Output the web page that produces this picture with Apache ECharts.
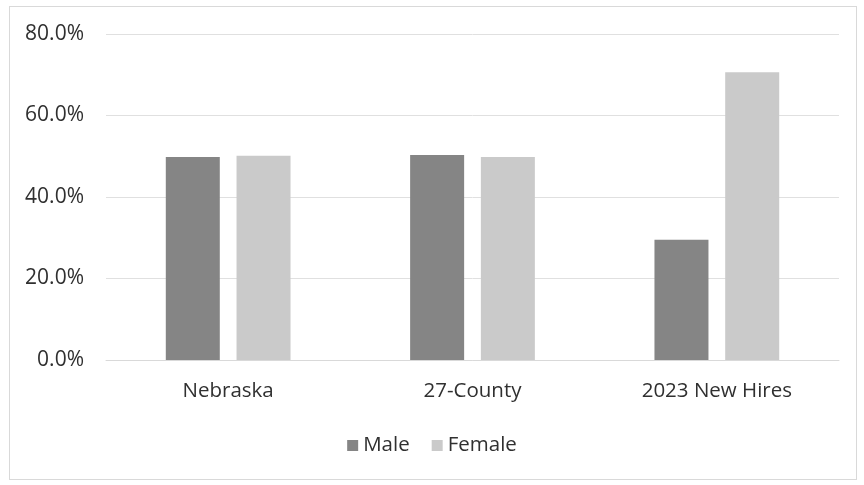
<!DOCTYPE html>
<html><head><meta charset="utf-8">
<script src="https://cdn.jsdelivr.net/npm/echarts@6/dist/echarts.min.js"></script>
<style>html,body{margin:0;padding:0;background:#fff;}#frame{position:absolute;left:9px;top:6px;width:848px;height:474px;border:1px solid #d9d9d9;box-sizing:border-box;}#c{position:absolute;left:0;top:0;width:864px;height:485px;}</style>
</head><body><div id="frame"></div><div id="c"></div>
<script>
const categories = ['Nebraska', '27-County', '2023 New Hires'];
const male = [49.8, 50.3, 29.5];
const female = [50.1, 49.8, 70.6];
const yTicks = [0, 20, 40, 60, 80];
const chart = echarts.init(document.getElementById('c'));
const font = '"Open Sans", "Liberation Sans", sans-serif';
chart.setOption({
  animation: false,
  grid: {left: 106, right: 25, top: 34, bottom: 125},
  legend: {
    bottom: 24, left: 'center', itemWidth: 11, itemHeight: 11, itemGap: 22, icon: 'rect',
    textStyle: {fontFamily: font, fontSize: 20.5, color: '#303030'},
    data: ['Male', 'Female']
  },
  xAxis: {
    type: 'category', data: categories,
    axisLine: {lineStyle: {color: '#d9d9d9'}}, axisTick: {show: false},
    axisLabel: {fontFamily: font, fontSize: 20.5, color: '#303030', margin: 21}
  },
  yAxis: {
    type: 'value', min: yTicks[0], max: yTicks[yTicks.length-1], interval: 20,
    axisLine: {show: false}, axisTick: {show: false},
    splitLine: {lineStyle: {color: '#e0e0e0'}},
    axisLabel: {fontFamily: font, fontSize: 21, color: '#303030', margin: 22,
      formatter: v => v.toFixed(1) + '%'}
  },
  series: [
    {name: 'Male', type: 'bar', data: male, barWidth: 54, barGap: '31%', itemStyle: {color: '#858585'}},
    {name: 'Female', type: 'bar', data: female, barWidth: 54, itemStyle: {color: '#cacaca'}}
  ]
});
</script></body></html>
